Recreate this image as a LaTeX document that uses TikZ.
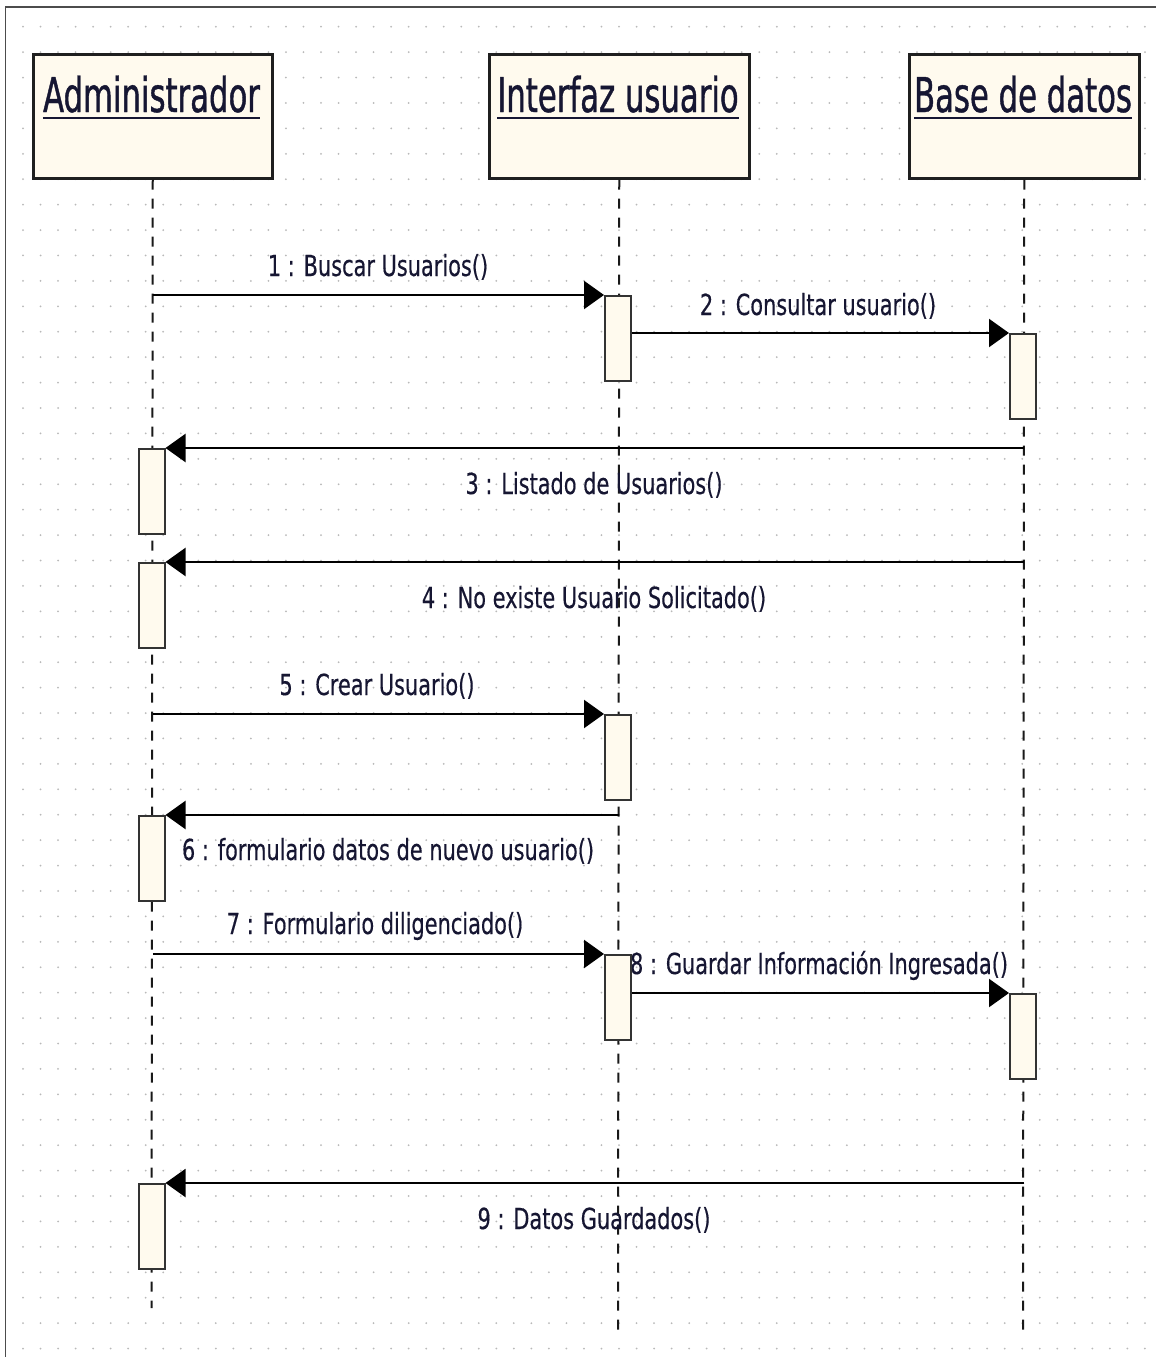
\documentclass[tikz,border=0pt]{standalone}
\usepackage{fontspec}
\setmainfont{DejaVu Sans}
\newfontfamily\titlefont[FakeStretch=0.64,FakeBold=0.8]{DejaVu Sans}
\newfontfamily\msgfont[FakeStretch=0.72,FakeBold=0.4]{DejaVu Sans}
\usetikzlibrary{arrows.meta}
\definecolor{boxfill}{RGB}{255,250,238}
\definecolor{ink}{RGB}{22,22,50}
\definecolor{griddot}{RGB}{185,185,185}
\begin{document}
\begin{tikzpicture}[x=1pt,y=-1pt,
  objbox/.style={draw=black!88, line width=2.5pt, fill=boxfill,
    minimum width=#1, minimum height=124pt, inner sep=0pt, anchor=north west},
  titletext/.style={font=\titlefont\fontsize{48}{56}\selectfont, text=ink,
    inner sep=0pt, anchor=base},
  underline/.style={draw=ink, line width=2.5pt},
  lifeline/.style={draw=black!90, line width=2pt, dash pattern=on 10pt off 9pt},
  actbox/.style={draw=black!80, line width=2pt, fill=boxfill,
    minimum width=26pt, minimum height=85pt, inner sep=0pt, anchor=north},
  msg/.style={draw=black, line width=2.2pt, -{Triangle[length=20pt,width=28pt]}},
  msgtext/.style={font=\msgfont\fontsize{29}{34}\selectfont, text=ink,
    inner sep=0pt, anchor=base}]

% canvas
\fill[white] (0,0) rectangle (1156,1357);
\useasboundingbox (0,0) rectangle (1156,1357);

% dotted drawing grid
\foreach \i in {0,...,64}
  \foreach \j in {0,...,52}
    \fill[griddot] ({23+17.53*\i},{26.7+25.42*\j}) circle (1pt);

% frame
\draw[line width=1.8pt, black!70] (5.5,1357) -- (5.5,7) -- (1156,7);

% participants
\node[objbox=239pt] (admin) at (32,53) {};
\node[objbox=260pt] (ui) at (488,53) {};
\node[objbox=230pt] (db) at (908,53) {};

\node[titletext] (tadmin) at (151.5,112) {Administrador};
\node[titletext] (tui) at (618,112) {Interfaz usuario};
\node[titletext] (tdb) at (1023,112) {Base de datos};
\draw[underline] ([yshift=-6pt]tadmin.base west) -- ([yshift=-6pt]tadmin.base east);
\draw[underline] ([yshift=-6pt]tui.base west) -- ([yshift=-6pt]tui.base east);
\draw[underline] ([yshift=-6pt]tdb.base west) -- ([yshift=-6pt]tdb.base east);

% lifelines
\coordinate (adminend) at (151.5,1308);
\coordinate (uiend) at (618,1332);
\coordinate (dbend) at (1023,1332);
\draw[lifeline] (admin.south) -- (adminend);
\draw[lifeline] (ui.south) -- (uiend);
\draw[lifeline] (db.south) -- (dbend);

% message labels
\node[msgtext] (l1) at (378,276) {1 : Buscar Usuarios()};
\node[msgtext] (l2) at (818,315) {2 : Consultar usuario()};
\node[msgtext] (l3) at (594,494) {3 : Listado de Usuarios()};
\node[msgtext] (l4) at (594,608) {4 : No existe Usuario Solicitado()};
\node[msgtext] (l5) at (377,695) {5 : Crear Usuario()};
\node[msgtext] (l6) at (388,860) {6 : formulario datos de nuevo usuario()};
\node[msgtext] (l7) at (375,934) {7 : Formulario diligenciado()};
\node[msgtext] (l8) at (819,974) {8 : Guardar Información Ingresada()};
\node[msgtext] (l9) at (594,1229) {9 : Datos Guardados()};

% activations
\node[actbox] (u1) at (618,295) {};
\node[actbox] (d1) at (1023,333) {};
\node[actbox] (a3) at (151.5,448) {};
\node[actbox] (a4) at (151.5,562) {};
\node[actbox] (u5) at (618,714) {};
\node[actbox] (a6) at (151.5,815) {};
\node[actbox] (u7) at (618,954) {};
\node[actbox] (d8) at (1023,993) {};
\node[actbox] (a9) at (151.5,1183) {};

% messages
\draw[msg] (admin.south |- u1.north) -- (u1.north west);
\draw[msg] (u1.east |- d1.north) -- (d1.north west);
\draw[msg] (db.south |- a3.north) -- (a3.north east);
\draw[msg] (db.south |- a4.north) -- (a4.north east);
\draw[msg] (admin.south |- u5.north) -- (u5.north west);
\draw[msg] (ui.south |- a6.north) -- (a6.north east);
\draw[msg] (admin.south |- u7.north) -- (u7.north west);
\draw[msg] (u7.east |- d8.north) -- (d8.north west);
\draw[msg] (db.south |- a9.north) -- (a9.north east);
\end{tikzpicture}
\end{document}
